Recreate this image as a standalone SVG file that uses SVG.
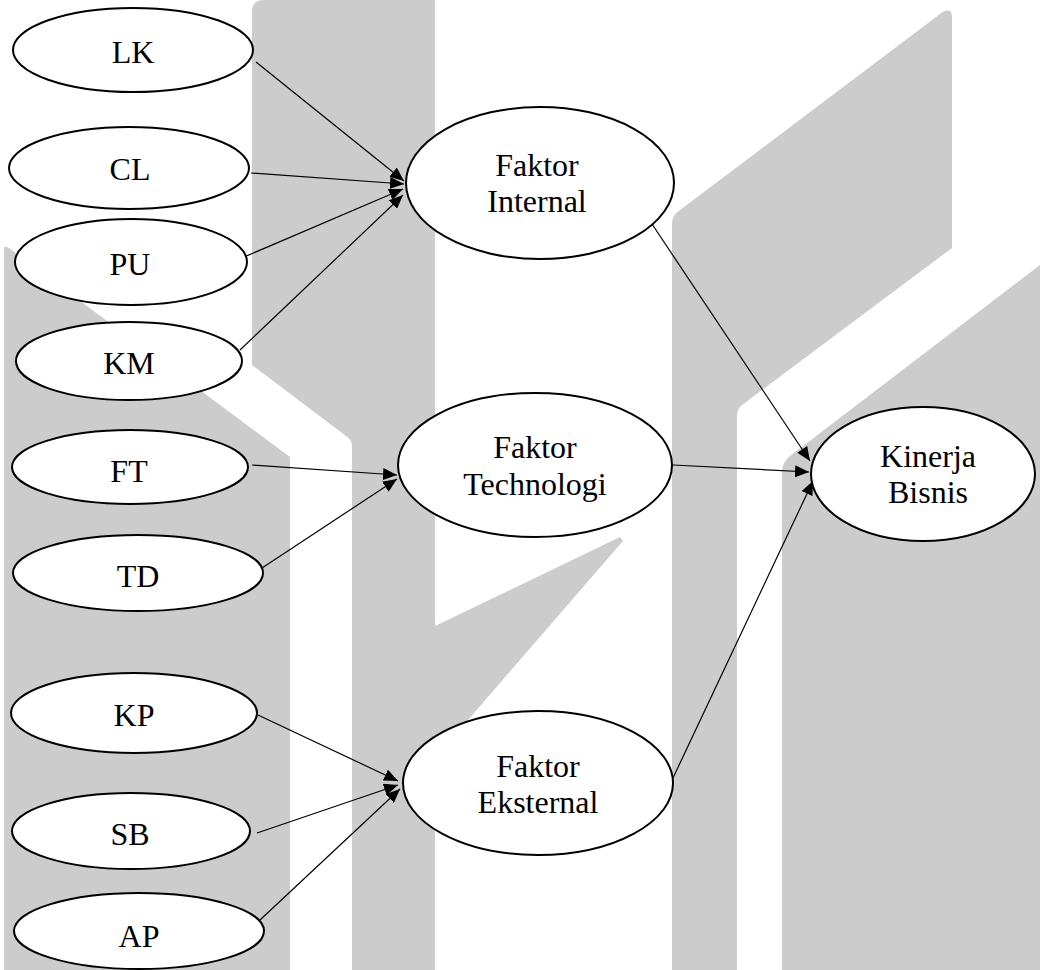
<svg xmlns="http://www.w3.org/2000/svg" width="1040" height="970" viewBox="0 0 1040 970">
<style>
.wm{fill:#cccccc;stroke:none}
.node ellipse{fill:#fff;stroke:#000;stroke-width:2}
.node text{font-family:"Liberation Serif","Times New Roman",serif;font-size:32px;fill:#000;text-anchor:middle}
.conn path{fill:none;stroke:#000;stroke-width:1.2;marker-end:url(#arr)}
</style>
<defs>
<marker id="arr" markerWidth="15" markerHeight="12" refX="14" refY="6" orient="auto" markerUnits="userSpaceOnUse">
<path d="M0,0 L14,6 L0,12 z" fill="#000"/>
</marker>
</defs>
<rect width="1040" height="970" fill="#fff"/>
<g id="watermark">
<path class="wm" d="M4,250 Q4,244 9,248 L290,457 L290,970 L4,970 Z"/>
<path class="wm" d="M252,12 Q252,0 264,0 L435,0 L435,626 L620,537 L623,541 L435,758 L435,970 L352,970 L352,446 Q352,440 346,436 L252,365 Z"/>
<path class="wm" d="M672,224 Q672,215 680,210 L940,14 Q952,5 952,18 L952,248 L742,405 Q737,409 737,416 L737,970 L672,970 Z"/>
<path class="wm" d="M782,472 Q782,462 790,456 L1040,265 L1040,970 L782,970 Z"/>
</g>
<g id="connectors" class="conn">
<path d="M256,62 L404,181"/>
<path d="M251,173 L404,184"/>
<path d="M244,257 L403,189"/>
<path d="M240,350 L403,195"/>
<path d="M652,224 L810,461"/>
<path d="M252,465 L397,475"/>
<path d="M262,568 L397,479"/>
<path d="M673,465 L809,472"/>
<path d="M258,715 L398,781"/>
<path d="M257,833 L398,785"/>
<path d="M260,920 L400,789"/>
<path d="M673,778 L813,481"/>
</g>
<g id="LK" class="node"><ellipse cx="133" cy="50" rx="120" ry="42"/><text x="133" y="63">LK</text></g>
<g id="CL" class="node"><ellipse cx="129" cy="168" rx="120" ry="41"/><text x="130" y="180">CL</text></g>
<g id="PU" class="node"><ellipse cx="131" cy="262" rx="116" ry="43"/><text x="130" y="275">PU</text></g>
<g id="KM" class="node"><ellipse cx="129" cy="361" rx="113" ry="39"/><text x="129" y="374">KM</text></g>
<g id="FT" class="node"><ellipse cx="130" cy="467" rx="118" ry="37"/><text x="129" y="482">FT</text></g>
<g id="TD" class="node"><ellipse cx="138" cy="573" rx="125" ry="38"/><text x="138" y="587">TD</text></g>
<g id="KP" class="node"><ellipse cx="134" cy="713" rx="123" ry="40"/><text x="134" y="726">KP</text></g>
<g id="SB" class="node"><ellipse cx="131" cy="831" rx="119" ry="38"/><text x="130" y="845">SB</text></g>
<g id="AP" class="node"><ellipse cx="139" cy="931" rx="125" ry="38"/><text x="139" y="947">AP</text></g>
<g id="FaktorInternal" class="node"><ellipse cx="540" cy="183" rx="134" ry="76"/><text x="537" y="176">Faktor</text><text x="537" y="212">Internal</text></g>
<g id="FaktorTechnologi" class="node"><ellipse cx="535" cy="465" rx="137" ry="72"/><text x="535" y="458">Faktor</text><text x="535" y="495">Technologi</text></g>
<g id="FaktorEksternal" class="node"><ellipse cx="538" cy="783" rx="135" ry="72"/><text x="538" y="777">Faktor</text><text x="538" y="813">Eksternal</text></g>
<g id="KinerjaBisnis" class="node"><ellipse cx="923" cy="474" rx="112" ry="67"/><text x="928" y="467">Kinerja</text><text x="928" y="503">Bisnis</text></g>
</svg>
